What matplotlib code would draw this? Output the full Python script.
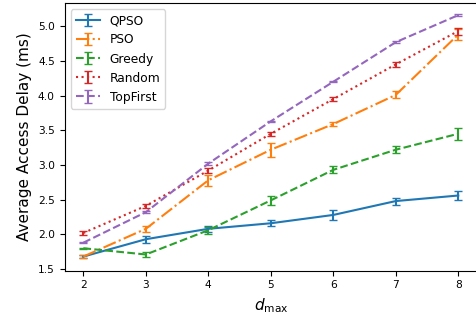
import matplotlib
matplotlib.use("Agg")
import matplotlib.pyplot as plt

d_max = [2, 3, 4, 5, 6, 7, 8]
qpso = [1.68, 1.93, 2.08, 2.16, 2.28, 2.48, 2.56]
qpso_err = [0.02, 0.05, 0.04, 0.04, 0.07, 0.05, 0.07]
pso = [1.68, 2.08, 2.78, 3.22, 3.59, 4.01, 4.88]
pso_err = [0.02, 0.04, 0.08, 0.10, 0.03, 0.05, 0.08]
greedy = [1.80, 1.71, 2.06, 2.49, 2.93, 3.22, 3.45]
greedy_err = [0.01, 0.04, 0.05, 0.07, 0.05, 0.05, 0.09]
rand = [2.02, 2.41, 2.92, 3.45, 3.95, 4.45, 4.93]
rand_err = [0.03, 0.03, 0.04, 0.03, 0.03, 0.04, 0.05]
topfirst = [1.88, 2.32, 3.02, 3.63, 4.20, 4.77, 5.16]
topfirst_err = [0.01, 0.01, 0.02, 0.01, 0.01, 0.01, 0.01]

series = [
    ("QPSO", qpso, qpso_err, "-", "tab:blue"),
    ("PSO", pso, pso_err, "-.", "tab:orange"),
    ("Greedy", greedy, greedy_err, "--", "tab:green"),
    ("Random", rand, rand_err, ":", "tab:red"),
    ("TopFirst", topfirst, topfirst_err, "--", "tab:purple"),
]

fig = plt.figure(figsize=(4.76, 3.2), dpi=100)
ax = fig.add_axes([0.1357, 0.154, 0.8664, 0.8356])
for name, y, e, ls, c in series:
    ax.errorbar(d_max, y, yerr=e, linestyle=ls, color=c, capsize=3, lw=1.5, label=name)

ax.set_xlim(1.7, 8.3)
ax.set_ylim(1.476, 5.33)
ax.set_xticks(d_max)
ax.set_yticks([1.5, 2.0, 2.5, 3.0, 3.5, 4.0, 4.5, 5.0])
ax.tick_params(labelsize=7.7)
ax.set_xlabel(r"$d_{\max}$", fontsize=11)
ax.set_ylabel("Average Access Delay (ms)", fontsize=11)
ax.legend(loc="upper left", fontsize=8.8)
fig.savefig("out.png", dpi=100)
